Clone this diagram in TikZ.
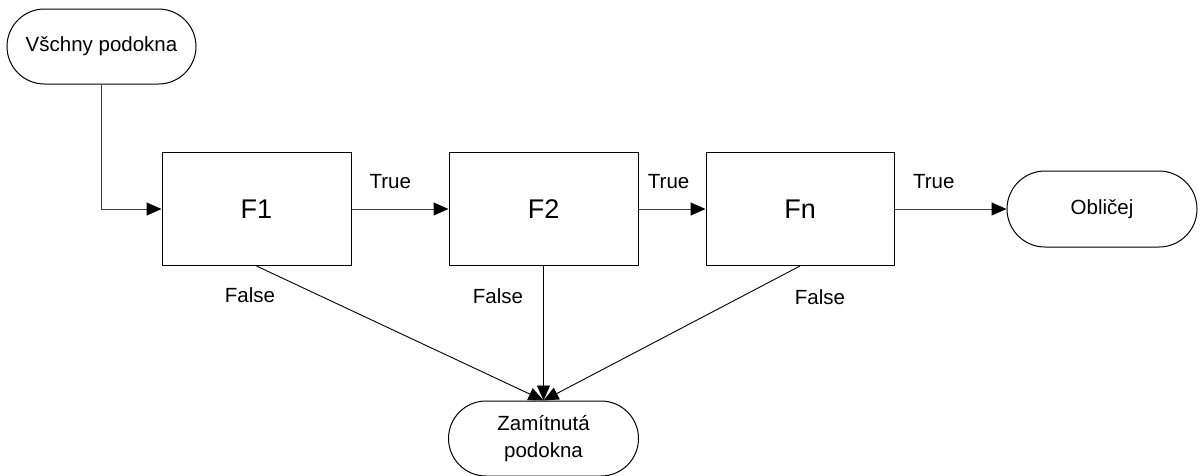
\documentclass[tikz,border=0pt]{standalone}
\usepackage{fontspec}
\setmainfont{Liberation Sans}
\usetikzlibrary{shapes.misc,arrows.meta}
\begin{document}
\begin{tikzpicture}[x=1pt,y=-1pt,
  every node/.style={font=\fontsize{20.5}{27}\selectfont},
  term/.style={draw=black,line width=1pt,rounded rectangle,inner sep=0pt,minimum height=75pt,align=center},
  filt/.style={draw=black,line width=1pt,rectangle,inner sep=0pt,minimum width=189pt,minimum height=113pt,font=\fontsize{27}{32}\selectfont},
  conn/.style={line width=1pt,draw=black!75,-{Triangle[length=15pt,width=13pt,color=black]}},
  fconn/.style={line width=0.9pt,draw=black,-{Triangle[length=15pt,width=13pt]}},
  lbl/.style={inner sep=0pt}
]
\useasboundingbox (0,0) rectangle (1201,475);
\node[term,minimum width=189pt] (start) at (101.5,46.5) {Všchny podokna};
\node[filt] (f1) at (256.5,209) {F1};
\node[filt] (f2) at (543.5,209) {F2};
\node[filt,minimum width=188pt] (fn) at (800,209) {Fn};
\node[term,minimum width=190pt,minimum height=76pt] (face) at (1102,209) {Obličej};
\node[term,minimum width=190pt] (rej) at (543.5,438.5) {Zamítnutá\\podokna};

\draw[conn] (start.south) |- (f1.west);
\draw[conn] (f1.east) -- node[lbl,pos=0.4,yshift=27pt] (t1) {True} (f2.west);
\draw[conn] (f2.east) -- node[lbl,pos=0.45,yshift=27pt] (t2) {True} (fn.west);
\draw[conn] (fn.east) -- node[lbl,pos=0.35,yshift=27pt] (t3) {True} (face.west);

\draw[fconn] (f1.south) -- (rej.north);
\draw[fconn] (f2.south) -- (rej.north);
\draw[fconn] (fn.south) -- (rej.north);

\node[lbl] (fl1) at (250,295) {False};
\node[lbl] (fl2) at (498,296) {False};
\node[lbl] (fl3) at (820,297) {False};
\end{tikzpicture}
\end{document}
